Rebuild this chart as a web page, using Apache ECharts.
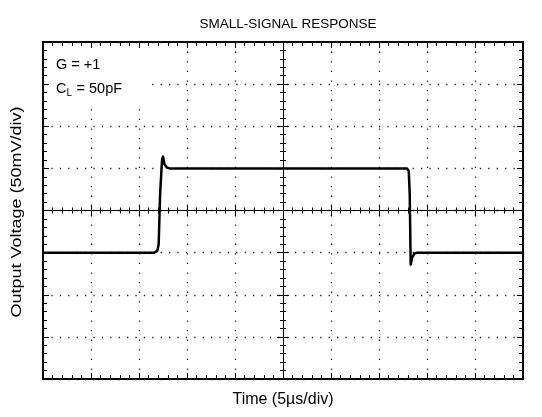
<!DOCTYPE html>
<html>
<head>
<meta charset="utf-8">
<script src="https://cdn.jsdelivr.net/npm/echarts@6/dist/echarts.min.js"></script>
<style>
html,body{margin:0;padding:0;background:#fff;}
#chart{width:542px;height:417px;}
</style>
</head>
<body>
<div id="chart"></div>
<script>
// Time in microseconds (5 µs/div, centred on 0), voltage in mV (50 mV/div)
const timeUs =    [-25, -13.4, -13.1, -12.95, -12.8, -12.6, -12.5, -12.35, -12.1, -11.8, -11.3, 12.9, 13.1, 13.2, 13.3, 13.45, 13.7, 14.0, 25];
const voltageMv = [-50, -50,   -48,   -40,    20,    60,    64,    55,     51,    50,    50,    50,   47,   20,   -64,  -56,   -51,  -50,  -50];
const titleText = 'SMALL-SIGNAL RESPONSE';
const xName = 'Time (5\u00b5s/div)';
const yName = 'Output Voltage (50mV/div)';
const gainText = 'G = +1';
const loadText = ['C', 'L', ' = 50pF'];

const font = '"Liberation Sans", Arial, sans-serif';
const data = timeUs.map((t, i) => [t, voltageMv[i]]);

const hidden = { show: false };
const tickStyle = { color: '#000', width: 1 };
function xAx(extra) {
  return Object.assign({
    type: 'value', min: -25, max: 25, interval: 5, z: 3,
    axisLabel: hidden, splitLine: hidden, minorSplitLine: hidden,
    axisLine: { show: false, onZero: false },
    axisTick: { show: true, inside: true, length: 6, lineStyle: tickStyle },
    minorTick: { show: true, splitNumber: 5, length: 4, lineStyle: tickStyle }
  }, extra);
}
function yAx(extra) {
  return Object.assign({
    type: 'value', min: -200, max: 200, interval: 50, z: 3,
    axisLabel: hidden, splitLine: hidden, minorSplitLine: hidden,
    axisLine: { show: false, onZero: false },
    axisTick: { show: true, inside: true, length: 6, lineStyle: tickStyle },
    minorTick: { show: true, splitNumber: 5, length: 4, lineStyle: tickStyle }
  }, extra);
}
const centreLine = { show: true, onZero: true, onZeroAxisIndex: 0, lineStyle: { color: '#000', width: 1 } };
const centreNoLine = { show: false, onZero: true, onZeroAxisIndex: 0 };

const chart = echarts.init(document.getElementById('chart'), null, { renderer: 'canvas' });
chart.setOption({
  animation: false,
  backgroundColor: '#fff',
  title: {
    text: titleText, left: 283, top: 12, textAlign: 'center',
    textStyle: { fontFamily: font, fontSize: 13.5, fontWeight: 'normal', color: '#000' }
  },
  grid: { left: 43, right: 19, top: 42, bottom: 38, show: true, borderColor: '#000', borderWidth: 2, backgroundColor: 'transparent' },
  xAxis: [
    // dotted grid + name (drawn lowest)
    xAx({
      position: 'bottom', z: 0,
      axisTick: hidden, minorTick: hidden,
      name: xName, nameLocation: 'middle', nameGap: 13,
      nameTextStyle: { fontFamily: font, fontSize: 16, color: '#000' },
      splitLine: { show: true, lineStyle: { color: '#222', width: 1.3, type: [1.3, 8.3] } }
    }),
    xAx({ position: 'bottom' }),
    xAx({ position: 'top' }),
    xAx({ position: 'bottom', axisLine: centreLine,
          axisTick: { show: true, inside: true, length: 6, lineStyle: tickStyle },
          minorTick: { show: true, splitNumber: 5, length: 3, lineStyle: tickStyle } }),
    xAx({ position: 'bottom', axisLine: centreNoLine,
          axisTick: { show: true, inside: false, length: 6, lineStyle: tickStyle },
          minorTick: { show: true, splitNumber: 5, length: 3, lineStyle: tickStyle } })
  ],
  yAxis: [
    yAx({
      position: 'left', z: 0,
      axisTick: hidden, minorTick: hidden,
      splitLine: { show: true, lineStyle: { color: '#222', width: 1.3, type: [1.3, 7.1] } }
    }),
    yAx({ position: 'left' }),
    yAx({ position: 'right' }),
    yAx({ position: 'left', axisLine: centreLine,
          axisTick: { show: true, inside: true, length: 6, lineStyle: tickStyle },
          minorTick: { show: true, splitNumber: 5, length: 3, lineStyle: tickStyle } }),
    yAx({ position: 'left', axisLine: centreNoLine,
          axisTick: { show: true, inside: false, length: 6, lineStyle: tickStyle },
          minorTick: { show: true, splitNumber: 5, length: 3, lineStyle: tickStyle } })
  ],
  graphic: [
    { type: 'rect', z: 1, shape: { x: 45, y: 44, width: 105, height: 61 }, style: { fill: '#fff' } },
    { type: 'text', z: 4, x: 17, y: 212, rotation: Math.PI / 2, scaleX: 1.2,
      style: { text: yName, font: '15px ' + font, fill: '#000', align: 'center', verticalAlign: 'middle' } },
    { type: 'text', z: 4, left: 56, top: 57, style: { text: gainText, font: '14.5px ' + font, fill: '#000' } },
    { type: 'text', z: 4, left: 56, top: 81, style: { text: loadText[0], font: '14.5px ' + font, fill: '#000' } },
    { type: 'text', z: 4, left: 66.5, top: 88, style: { text: loadText[1], font: '10px ' + font, fill: '#000' } },
    { type: 'text', z: 4, left: 72.5, top: 81, style: { text: loadText[2], font: '14.5px ' + font, fill: '#000' } }
  ],
  series: [{
    type: 'line', xAxisIndex: 0, yAxisIndex: 0,
    data: data, showSymbol: false, symbol: 'none',
    lineStyle: { color: '#000', width: 2.5, join: 'round' },
    z: 5
  }]
});
</script>
</body>
</html>
